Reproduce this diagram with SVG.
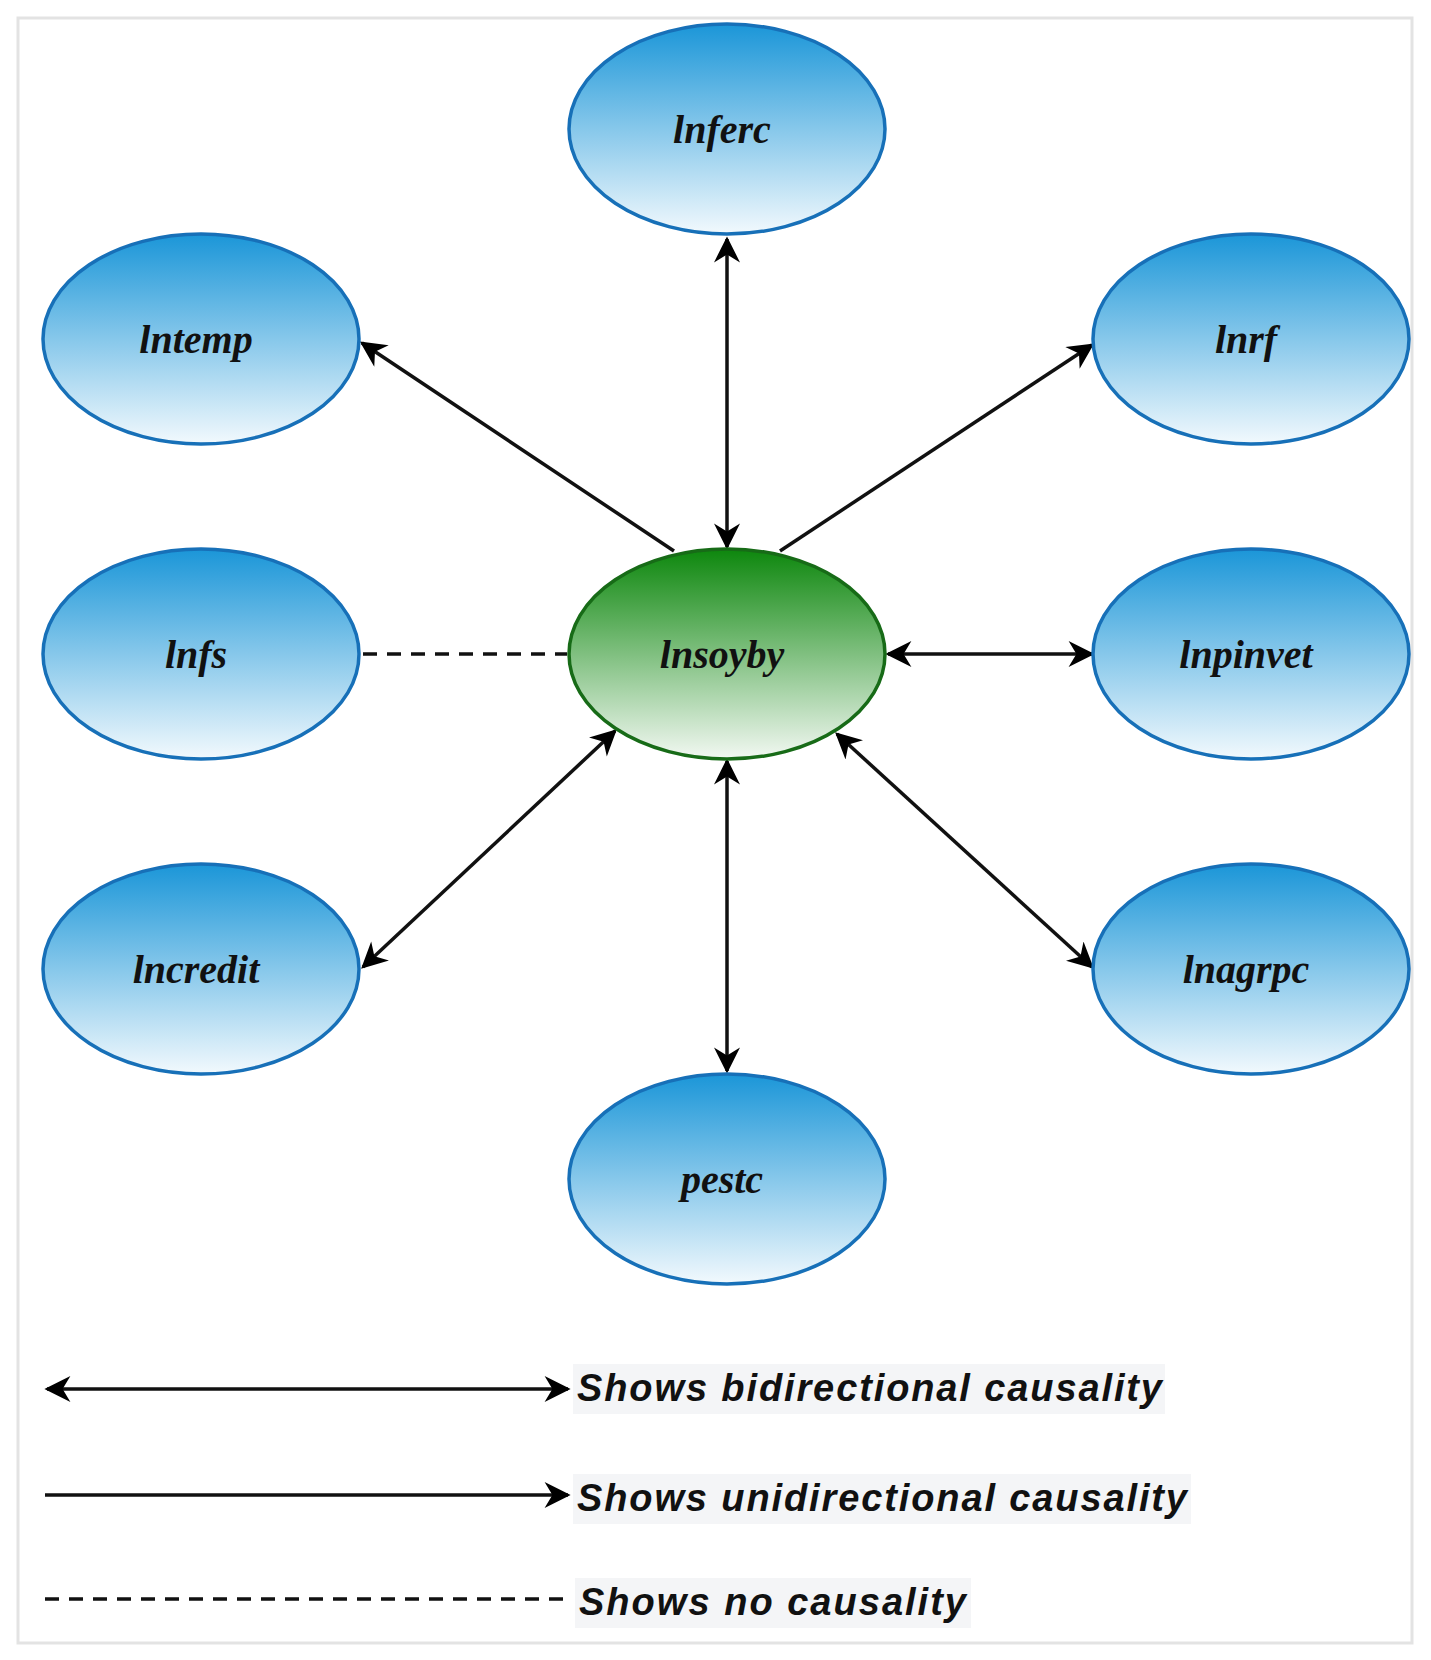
<svg xmlns="http://www.w3.org/2000/svg" width="1431" height="1660" viewBox="0 0 1431 1660">
<defs>
<linearGradient id="gb" x1="0" y1="0" x2="0" y2="1"><stop offset="0" stop-color="#1b96d8"/><stop offset="1" stop-color="#f2f9fd"/></linearGradient>
<linearGradient id="gg" x1="0" y1="0" x2="0" y2="1"><stop offset="0" stop-color="#0d870d"/><stop offset="1" stop-color="#f2f8f2"/></linearGradient>
<marker id="ah" viewBox="0 0 20 20" refX="18" refY="10" markerWidth="28" markerHeight="26" markerUnits="userSpaceOnUse" orient="auto-start-reverse"><path d="M0,0 L20,10 L0,20 L6,10 Z" fill="#000"/></marker>
<style>
.b{fill:url(#gb);stroke:#1770b8;stroke-width:3.5}
.g{fill:url(#gg);stroke:#176b17;stroke-width:3.5}
.t{font-family:"Liberation Serif",serif;font-weight:bold;font-style:italic;font-size:40px;text-anchor:middle;fill:#111}
.c{stroke:#111;stroke-width:3.5;fill:none}
.bi{marker-start:url(#ah);marker-end:url(#ah)}
.un{marker-end:url(#ah)}
.d{stroke-dasharray:14 10}
.l{font-family:"Liberation Sans",sans-serif;font-weight:bold;font-style:italic;font-size:38px;fill:#111}
</style>
</defs>
<rect x="18" y="18" width="1394" height="1625" fill="#fff" stroke="#e3e3e3" stroke-width="3"/>
<g id="connectors">
<line class="c bi" x1="727" y1="239" x2="727" y2="547"/>
<line class="c un" x1="674" y1="551" x2="362" y2="343"/>
<line class="c un" x1="780" y1="551" x2="1092" y2="345"/>
<line class="c d" x1="363" y1="654" x2="567" y2="654"/>
<line class="c bi" x1="888" y1="654" x2="1092" y2="654"/>
<line class="c bi" x1="615" y1="731" x2="363" y2="967"/>
<line class="c bi" x1="837" y1="734" x2="1092" y2="967"/>
<line class="c bi" x1="727" y1="761" x2="727" y2="1071"/>
</g>
<g id="lnferc"><ellipse class="b" cx="727" cy="129" rx="158" ry="105"/><text class="t" x="722" y="143">lnferc</text></g>
<g id="lntemp"><ellipse class="b" cx="201" cy="339" rx="158" ry="105"/><text class="t" x="196" y="353">lntemp</text></g>
<g id="lnrf"><ellipse class="b" cx="1251" cy="339" rx="158" ry="105"/><text class="t" x="1246" y="353">lnrf</text></g>
<g id="lnfs"><ellipse class="b" cx="201" cy="654" rx="158" ry="105"/><text class="t" x="196" y="668">lnfs</text></g>
<g id="lnsoyby"><ellipse class="g" cx="727" cy="654" rx="158" ry="105"/><text class="t" x="722" y="668">lnsoyby</text></g>
<g id="lnpinvet"><ellipse class="b" cx="1251" cy="654" rx="158" ry="105"/><text class="t" x="1246" y="668">lnpinvet</text></g>
<g id="lncredit"><ellipse class="b" cx="201" cy="969" rx="158" ry="105"/><text class="t" x="196" y="983">lncredit</text></g>
<g id="lnagrpc"><ellipse class="b" cx="1251" cy="969" rx="158" ry="105"/><text class="t" x="1246" y="983">lnagrpc</text></g>
<g id="pestc"><ellipse class="b" cx="727" cy="1179" rx="158" ry="105"/><text class="t" x="722" y="1193">pestc</text></g>
<g id="legend">
<rect x="573" y="1364" width="592" height="50" fill="#f4f5f7"/>
<rect x="573" y="1474" width="618" height="50" fill="#f4f5f7"/>
<rect x="575" y="1578" width="396" height="50" fill="#f4f5f7"/>
<line class="c bi" x1="47" y1="1389" x2="568" y2="1389"/>
<line class="c un" x1="45" y1="1495" x2="568" y2="1495"/>
<line class="c d" x1="45" y1="1599" x2="567" y2="1599"/>
<text class="l" x="577" y="1401" textLength="585" lengthAdjust="spacing">Shows bidirectional causality</text>
<text class="l" x="577" y="1511" textLength="610" lengthAdjust="spacing">Shows unidirectional causality</text>
<text class="l" x="579" y="1615" textLength="387" lengthAdjust="spacing">Shows no causality</text>
</g>
</svg>
